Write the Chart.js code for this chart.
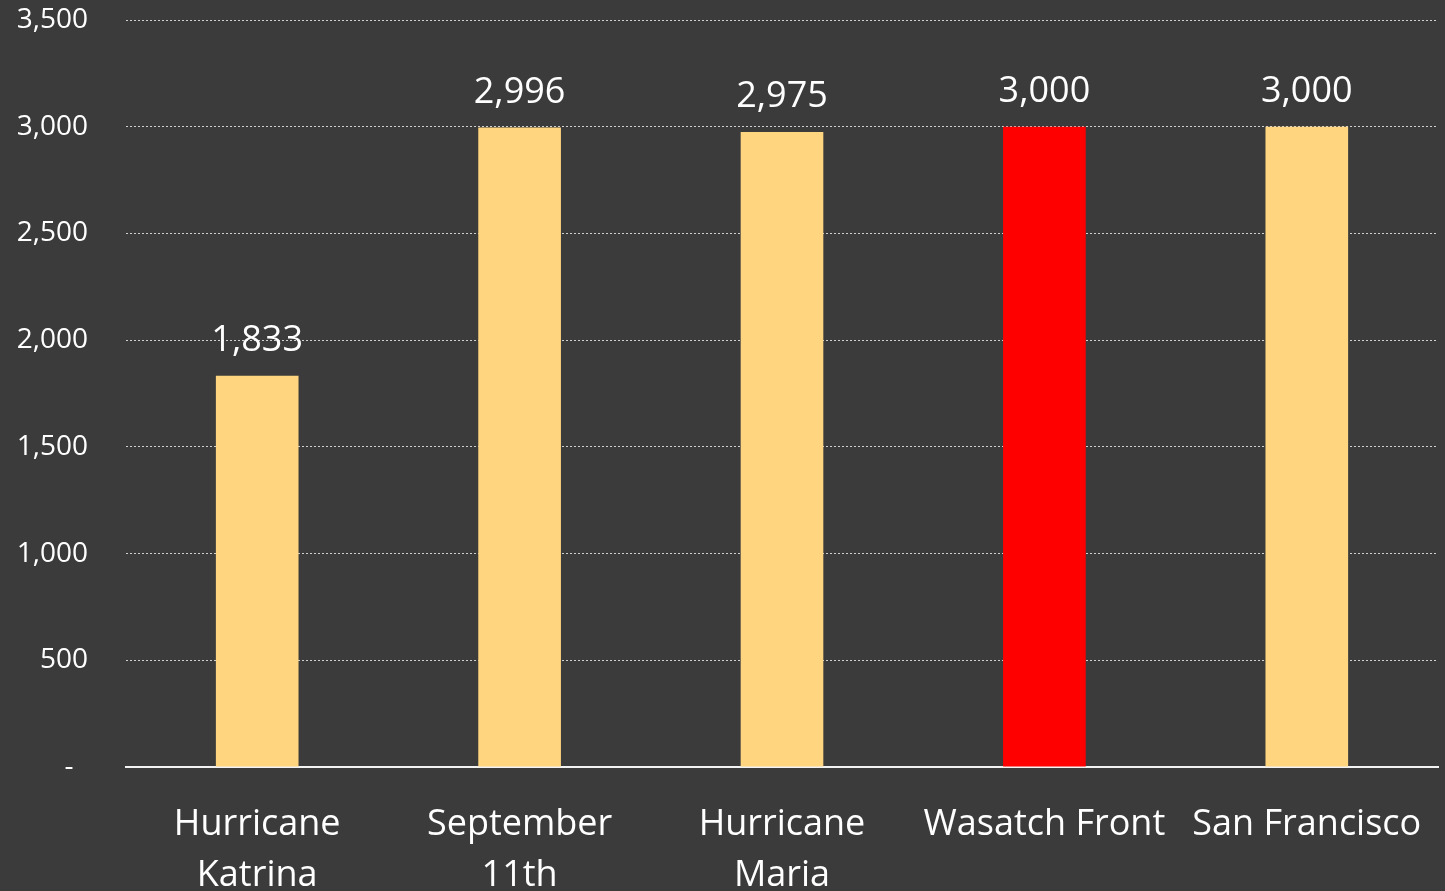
<!DOCTYPE html>
<html>
<head>
<meta charset="utf-8">
<script src="https://cdn.jsdelivr.net/npm/chart.js@4"></script>
<style>
  html, body { margin: 0; padding: 0; background: #3b3b3b; }
  #wrap { width: 1445px; height: 891px; position: relative; }
</style>
</head>
<body>
<div id="wrap"><canvas id="c"></canvas></div>
<script>
const categories = [["Hurricane", "Katrina"], ["September", "11th"], ["Hurricane", "Maria"], ["Wasatch Front"], ["San Francisco"]];
const values = [1833, 2996, 2975, 3000, 3000];
const barColors = ["#FFD57F", "#FFD57F", "#FFD57F", "#FF0000", "#FFD57F"];
const yMin = 0, yMax = 3500, yStep = 500;

const FONT = "'Open Sans', 'Noto Sans', sans-serif";

const valueLabels = {
  id: 'valueLabels',
  afterDatasetsDraw(chart) {
    const ctx = chart.ctx;
    const meta = chart.getDatasetMeta(0);
    ctx.save();
    ctx.font = "36px " + FONT;
    ctx.fillStyle = "#ffffff";
    ctx.textAlign = "center";
    ctx.textBaseline = "middle";
    meta.data.forEach((bar, i) => {
      const v = chart.data.datasets[0].data[i];
      ctx.fillText(v.toLocaleString('en-US'), bar.x, bar.y - 35);
    });
    ctx.restore();
  }
};

new Chart(document.getElementById('c'), {
  type: 'bar',
  data: {
    labels: categories,
    datasets: [{
      data: values,
      backgroundColor: barColors,
      borderWidth: 0,
      categoryPercentage: 1,
      barPercentage: 0.315
    }]
  },
  options: {
    responsive: true,
    maintainAspectRatio: false,
    devicePixelRatio: 1,
    animation: false,
    layout: { padding: { top: 20, right: 7, left: 0, bottom: 0 } },
    plugins: { legend: { display: false }, tooltip: { enabled: false } },
    scales: {
      x: {
        grid: { display: false, drawTicks: false },
        border: { display: true, color: "#f2f2f2", width: 2 },
        ticks: { color: "#ffffff", font: { family: FONT, size: 36, lineHeight: 1.42 }, padding: 32, maxRotation: 0, autoSkip: false },
        afterFit(scale) { scale.height = 124; scale.paddingLeft = 0; scale.paddingRight = 0; }
      },
      y: {
        min: yMin, max: yMax,
        grid: {
          drawTicks: false,
          color: (c) => (c.tick && c.tick.value === 0) ? 'rgba(0,0,0,0)' : '#d0d0d0',
          lineWidth: 1
        },
        border: { display: false, dash: [2, 2] },
        ticks: {
          stepSize: yStep,
          color: "#ffffff",
          font: { family: FONT, size: 28 },
          padding: 38,
          callback: (v) => v === 0 ? "-  " : v.toLocaleString('en-US')
        },
        afterFit(scale) { scale.width = 126; scale.paddingTop = 0; scale.paddingBottom = 0; }
      }
    }
  },
  plugins: [valueLabels]
});
</script>
</body>
</html>
